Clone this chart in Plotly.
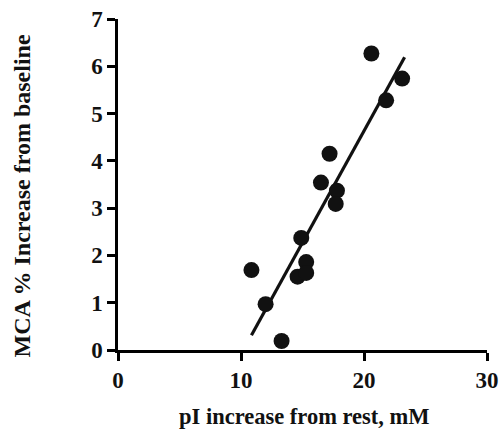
import numpy as np
import plotly.graph_objects as go

# Data
pi_increase = [10.85, 12.0, 13.3, 14.6, 15.3, 15.3, 14.9, 16.5, 17.2, 17.8, 17.7, 20.6, 21.8, 23.1]
mca_increase = [1.69, 0.97, 0.19, 1.55, 1.86, 1.63, 2.37, 3.54, 4.15, 3.37, 3.09, 6.27, 5.28, 5.74]
x_ticks = [0, 10, 20, 30]
y_ticks = [0, 1, 2, 3, 4, 5, 6, 7]

slope, intercept = np.polyfit(pi_increase, mca_increase, 1)
fit_x = np.array([min(pi_increase), max(pi_increase) + 0.2])
fit_y = slope * fit_x + intercept

FONT = "Liberation Serif"

fig = go.Figure()
fig.add_trace(go.Scatter(x=fit_x, y=fit_y, mode="lines",
                         line=dict(color="#111111", width=3.2), showlegend=False))
fig.add_trace(go.Scatter(x=pi_increase, y=mca_increase, mode="markers",
                         marker=dict(color="#111111", size=16, line=dict(width=0)),
                         showlegend=False, cliponaxis=False))

axis_common = dict(showgrid=False, zeroline=False, showline=True, linecolor="black",
                   linewidth=2.5, ticks="outside", ticklen=8, tickwidth=2.5,
                   tickcolor="black", automargin=False,
                   tickfont=dict(family=FONT, size=23, color="#111111", weight="bold"))

fig.update_xaxes(range=[0, 30], tickvals=x_ticks, **axis_common)
fig.update_yaxes(range=[0, 7], tickvals=y_ticks, **axis_common)

fig.update_layout(
    width=499, height=430,
    margin=dict(l=118, r=12, t=19, b=80),
    plot_bgcolor="white", paper_bgcolor="white",
    font=dict(family=FONT, color="#111111"),
    annotations=[
        dict(text="<b>pI increase from rest, mM</b>", xref="paper", yref="paper",
             x=0.5, xshift=2, y=0, yshift=-66, yanchor="middle", xanchor="center",
             showarrow=False,
             font=dict(family=FONT, size=22.5, color="#111111")),
        dict(text="<b>MCA % Increase from baseline</b>", xref="paper", yref="paper",
             x=0, xshift=-97, y=0.5, yshift=-12, yanchor="middle", xanchor="center",
             textangle=-90, showarrow=False,
             font=dict(family=FONT, size=24, color="#111111")),
    ],
)

fig.write_html(
    "out.html",
    config={"displayModeBar": False},
    post_script="document.body.style.margin='0px'; document.body.style.overflow='hidden';",
)
